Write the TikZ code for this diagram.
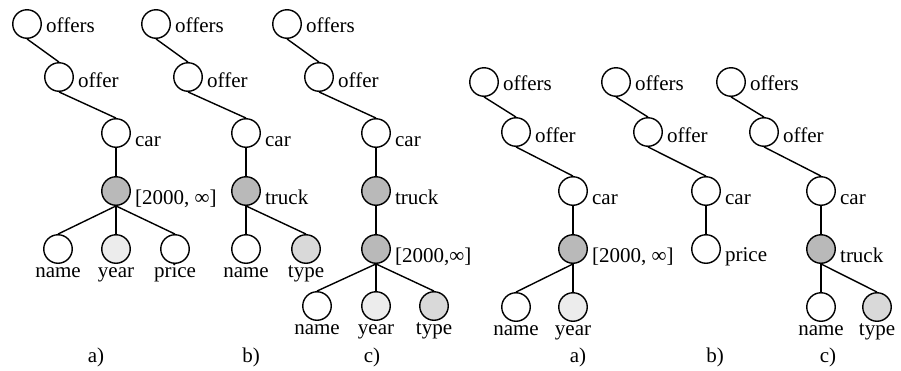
\documentclass[tikz,border=0pt]{standalone}
\usepackage{fontspec}
\setmainfont{Liberation Serif}
\usetikzlibrary{calc}
\newcommand\lbfont{\fontsize{21}{25}\selectfont}
\tikzset{
  nd/.style={circle, draw, line width=1.4pt, minimum size=28.5pt, inner sep=0pt},
  dk/.style={fill=gray!55},
  lt/.style={fill=gray!15},
  tp/.style={fill=gray!30},
  wh/.style={fill=white},
  rl/.style={font=\lbfont, anchor=base west, inner sep=0pt},
  bl/.style={font=\lbfont, anchor=base, inner sep=0pt},
  captxt/.style={font=\lbfont, anchor=base, inner sep=0pt},
  edgeln/.style={line width=1.4pt},
}
% right-labelled node: name, x, y, style, text, baseline offset
\newcommand\rn[6]{\node[nd,#4] (#1) at (#2,#3) {};
  \node[rl] (#1l) at ($(#1.east)+(4,#6)$) {#5};}
% bottom-labelled node
\newcommand\bn[5]{\node[nd,#4] (#1) at (#2,#3) {};
  \node[bl] (#1l) at ($(#1)+(0,28)$) {#5};}
\newcommand\ed[2]{\draw[edgeln] (#1.south) -- (#2.north);}
\begin{document}
\begin{tikzpicture}[x=1pt,y=-1pt]
\useasboundingbox (0,0) rectangle (901,370);
% ---- left a
\rn{a0}{27}{24}{wh}{offers}{8}
\rn{a1}{59}{77}{wh}{offer}{10}
\rn{a2}{116}{133}{wh}{car}{13}
\rn{a3}{116}{191}{dk}{[2000, ∞]}{13}
\bn{a4}{58}{249}{wh}{name}
\bn{a5}{116}{249}{lt}{year}
\bn{a6}{175}{249}{wh}{price}
\ed{a0}{a1}\ed{a1}{a2}\ed{a2}{a3}\ed{a3}{a4}\ed{a3}{a5}\ed{a3}{a6}
% ---- left b
\rn{b0}{156}{24}{wh}{offers}{8}
\rn{b1}{188}{77}{wh}{offer}{10}
\rn{b2}{246}{133}{wh}{car}{13}
\rn{b3}{246}{191}{dk}{truck}{13}
\bn{b4}{246}{249}{wh}{name}
\bn{b5}{306}{249}{tp}{type}
\ed{b0}{b1}\ed{b1}{b2}\ed{b2}{b3}\ed{b3}{b4}\ed{b3}{b5}
% ---- left c
\rn{c0}{287}{24}{wh}{offers}{8}
\rn{c1}{319}{77}{wh}{offer}{10}
\rn{c2}{376}{133}{wh}{car}{13}
\rn{c3}{376}{191}{dk}{truck}{13}
\rn{c4}{376}{249}{dk}{[2000,∞]}{13}
\bn{c5}{317}{306}{wh}{name}
\bn{c6}{376}{306}{lt}{year}
\bn{c7}{434}{306}{tp}{type}
\ed{c0}{c1}\ed{c1}{c2}\ed{c2}{c3}\ed{c3}{c4}\ed{c4}{c5}\ed{c4}{c6}\ed{c4}{c7}
% ---- right a
\rn{d0}{484}{82}{wh}{offers}{8}
\rn{d1}{516}{132}{wh}{offer}{10}
\rn{d2}{573}{191}{wh}{car}{13}
\rn{d3}{573}{249}{dk}{[2000, ∞]}{13}
\bn{d4}{516}{307}{wh}{name}
\bn{d5}{573}{307}{lt}{year}
\ed{d0}{d1}\ed{d1}{d2}\ed{d2}{d3}\ed{d3}{d4}\ed{d3}{d5}
% ---- right b
\rn{e0}{616}{82}{wh}{offers}{8}
\rn{e1}{648}{132}{wh}{offer}{10}
\rn{e2}{706}{191}{wh}{car}{13}
\rn{e3}{706}{249}{wh}{price}{12}
\ed{e0}{e1}\ed{e1}{e2}\ed{e2}{e3}
% ---- right c
\rn{f0}{731}{82}{wh}{offers}{8}
\rn{f1}{764}{132}{wh}{offer}{10}
\rn{f2}{821}{191}{wh}{car}{13}
\rn{f3}{821}{249}{dk}{truck}{13}
\bn{f4}{821}{307}{wh}{name}
\bn{f5}{877}{307}{tp}{type}
\ed{f0}{f1}\ed{f1}{f2}\ed{f2}{f3}\ed{f3}{f4}\ed{f3}{f5}
% ---- captions
\node[captxt] (ca) at (96,362) {a)};
\node[captxt] (cb) at (251,362) {b)};
\node[captxt] (cc) at (372,362) {c)};
\node[captxt] (cd) at (578,362) {a)};
\node[captxt] (ce) at (715,362) {b)};
\node[captxt] (cf) at (828,362) {c)};
\end{tikzpicture}
\end{document}
